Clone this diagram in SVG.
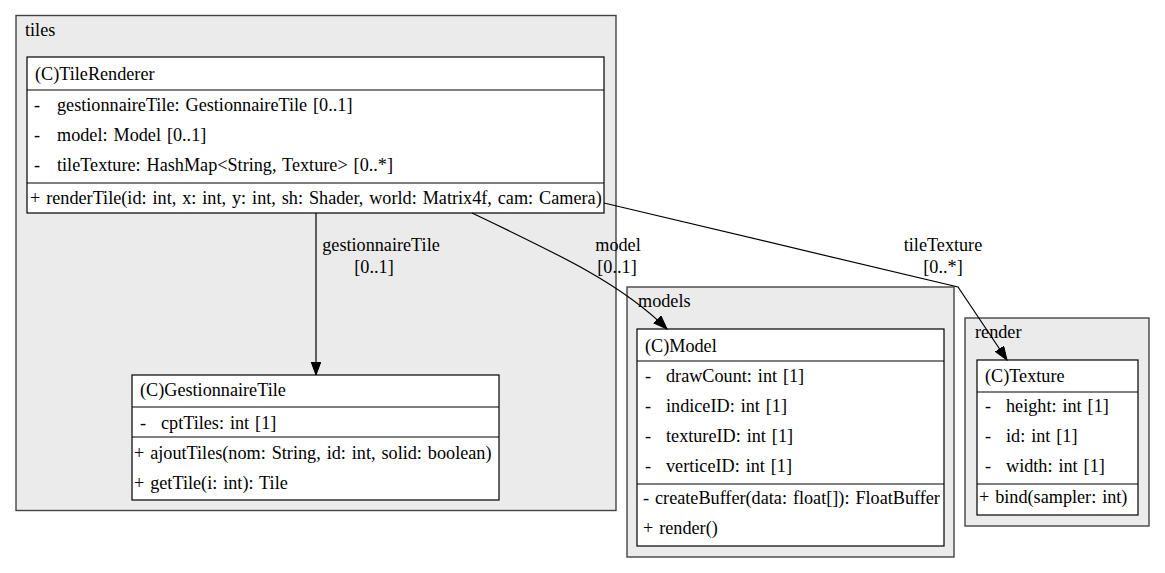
<svg xmlns="http://www.w3.org/2000/svg" width="1165" height="573" viewBox="0 0 1165 573">
<style>
text{font-family:"Liberation Serif","Times New Roman",serif;font-size:18.2px;word-spacing:1.4px;fill:#000}
.cl{fill:#ebebeb;stroke:#444;stroke-width:1.4}
.box{fill:#fff;stroke:#000;stroke-width:1.2}
.sep{stroke:#000;stroke-width:1.2}
.edge{fill:none;stroke:#000;stroke-width:1.2}
.lbl{text-anchor:middle}
</style>
<defs>
<marker id="arr" markerUnits="userSpaceOnUse" markerWidth="15" markerHeight="12" refX="13.5" refY="5" orient="auto">
<path d="M0,0 L13.5,5 L0,10 z" fill="#000" stroke="#000" stroke-width="1"/>
</marker>
</defs>
<rect width="1165" height="573" fill="#fff"/>
<g id="cluster-tiles">
<rect class="cl" x="16" y="15.5" width="600" height="495"/>
<text x="25" y="36">tiles</text>
</g>
<g id="cluster-models">
<rect class="cl" x="627" y="287" width="327" height="270"/>
<text x="638" y="307">models</text>
</g>
<g id="cluster-render">
<rect class="cl" x="965" y="318" width="184" height="208"/>
<text x="975" y="338">render</text>
</g>
<g id="TileRenderer">
<rect class="box" x="27" y="57" width="577" height="156"/>
<text x="35" y="80">(C)TileRenderer</text>
<line class="sep" x1="27" y1="90" x2="604" y2="90"/>
<text><tspan x="34" y="111">-</tspan><tspan x="57" y="111">gestionnaireTile: GestionnaireTile [0..1]</tspan></text>
<text><tspan x="34" y="141">-</tspan><tspan x="57" y="141">model: Model [0..1]</tspan></text>
<text><tspan x="34" y="171">-</tspan><tspan x="57" y="171">tileTexture: HashMap&lt;String, Texture&gt; [0..*]</tspan></text>
<line class="sep" x1="27" y1="183" x2="604" y2="183"/>
<text x="30" y="204">+ renderTile(id: int, x: int, y: int, sh: Shader, world: Matrix4f, cam: Camera)</text>
</g>
<g id="GestionnaireTile">
<rect class="box" x="132" y="375" width="367" height="125"/>
<text x="140" y="396">(C)GestionnaireTile</text>
<line class="sep" x1="132" y1="407" x2="499" y2="407"/>
<text><tspan x="140" y="429">-</tspan><tspan x="161" y="429">cptTiles: int [1]</tspan></text>
<line class="sep" x1="132" y1="437" x2="499" y2="437"/>
<text x="134" y="459">+ ajoutTiles(nom: String, id: int, solid: boolean)</text>
<text x="134" y="489">+ getTile(i: int): Tile</text>
</g>
<g id="Model">
<rect class="box" x="637" y="329" width="307" height="217"/>
<text x="645" y="352">(C)Model</text>
<line class="sep" x1="637" y1="361" x2="944" y2="361"/>
<text><tspan x="645" y="382">-</tspan><tspan x="666" y="382">drawCount: int [1]</tspan></text>
<text><tspan x="645" y="412">-</tspan><tspan x="666" y="412">indiceID: int [1]</tspan></text>
<text><tspan x="645" y="442">-</tspan><tspan x="666" y="442">textureID: int [1]</tspan></text>
<text><tspan x="645" y="472">-</tspan><tspan x="666" y="472">verticeID: int [1]</tspan></text>
<line class="sep" x1="637" y1="484" x2="944" y2="484"/>
<text x="643" y="504">- createBuffer(data: float[]): FloatBuffer</text>
<text x="643" y="534">+ render()</text>
</g>
<g id="Texture">
<rect class="box" x="977" y="360" width="161" height="155"/>
<text x="985" y="382">(C)Texture</text>
<line class="sep" x1="977" y1="392" x2="1138" y2="392"/>
<text><tspan x="985" y="412">-</tspan><tspan x="1006" y="412">height: int [1]</tspan></text>
<text><tspan x="985" y="442">-</tspan><tspan x="1006" y="442">id: int [1]</tspan></text>
<text><tspan x="985" y="472">-</tspan><tspan x="1006" y="472">width: int [1]</tspan></text>
<line class="sep" x1="977" y1="484" x2="1138" y2="484"/>
<text x="979" y="503">+ bind(sampler: int)</text>
</g>
<g id="connectors">
<path class="edge" d="M316,213 L316,375" marker-end="url(#arr)"/>
<text class="lbl" x="381" y="251">gestionnaireTile</text>
<text class="lbl" x="374" y="273">[0..1]</text>
<path class="edge" d="M472,213 C560,255 622,284 667,329" marker-end="url(#arr)"/>
<text class="lbl" x="618" y="251">model</text>
<text class="lbl" x="617" y="273">[0..1]</text>
<path class="edge" d="M604,203 L958,287 L1007,360" marker-end="url(#arr)"/>
<text class="lbl" x="943" y="251">tileTexture</text>
<text class="lbl" x="943" y="273">[0..*]</text>
</g>
</svg>
